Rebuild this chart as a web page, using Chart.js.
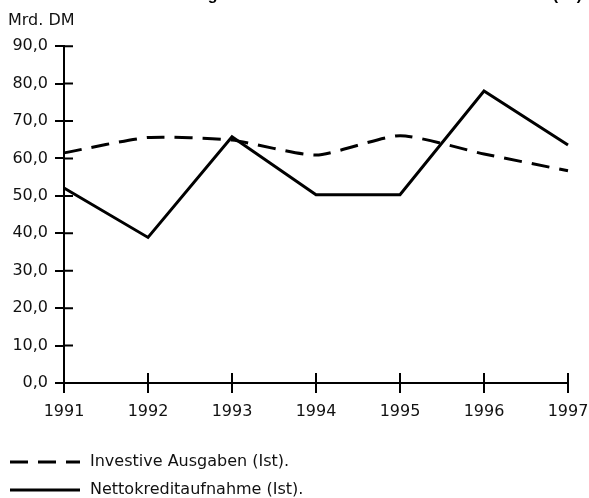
<!DOCTYPE html>
<html>
<head>
<meta charset="utf-8">
<script src="https://cdn.jsdelivr.net/npm/chart.js@4.4.1/dist/chart.umd.min.js"></script>
<style>
    html, body { margin: 0; padding: 0; background: #fff; overflow: hidden; }
    #wrap { position: relative; width: 589px; height: 498px; }
    /* titre coupé en haut de l'image, seuls les jambages dépassent */
    #titre { position: absolute; right: 7px; top: -13px; font: bold 16px/16px "Liberation Sans", Arial, sans-serif; white-space: nowrap; color: #000; }
</style>
</head>
<body>
<div id="wrap">
    <div id="titre">Investive Ausgaben und Nettokreditaufnahme des Bundes (Ist)</div>
    <canvas id="chart" width="589" height="498"></canvas>
</div>
<script>
// Données (Mrd. DM)
const annees = ['1991', '1992', '1993', '1994', '1995', '1996', '1997'];
const investiveAusgaben = [61.5, 65.6, 64.9, 60.9, 66.1, 61.2, 56.7];
const nettokreditaufnahme = [52.1, 38.9, 65.8, 50.3, 50.3, 78.0, 63.6];
const yMin = 0;
const yMax = 90;
const yPas = 10;

const police = '"DejaVu Sans", Verdana, sans-serif';

// Dessine la moitié intérieure des graduations (en croix sur les axes)
const ticksInterieurs = {
    id: 'ticksInterieurs',
    beforeDatasetsDraw(chart) {
        const { ctx, chartArea, scales: { x, y } } = chart;
        ctx.save();
        ctx.strokeStyle = '#000';
        ctx.lineWidth = 2;
        ctx.beginPath();
        y.ticks.forEach(t => {
            const py = y.getPixelForValue(t.value);
            ctx.moveTo(chartArea.left, py);
            ctx.lineTo(chartArea.left + 9, py);
        });
        x.ticks.forEach((t, i) => {
            const px = x.getPixelForTick(i);
            ctx.moveTo(px, chartArea.bottom);
            ctx.lineTo(px, chartArea.bottom - 10);
        });
        ctx.stroke();
        ctx.restore();
    }
};

// Légende sous le graphique : une entrée par ligne, trait + texte
const legendeLignes = {
    id: 'legendeLignes',
    afterDraw(chart) {
        const { ctx } = chart;
        ctx.save();
        chart.data.datasets.forEach((ds, i) => {
            const y = 462 + i * 28;
            ctx.strokeStyle = ds.borderColor;
            ctx.lineWidth = ds.borderWidth;
            ctx.setLineDash(ds.borderDash || []);
            ctx.beginPath();
            ctx.moveTo(10, y);
            ctx.lineTo(80, y);
            ctx.stroke();
            ctx.setLineDash([]);
            ctx.fillStyle = '#111';
            ctx.font = '16px ' + police;
            ctx.textBaseline = 'middle';
            ctx.fillText(ds.label, 90, y);
        });
        ctx.restore();
    }
};

const canvas = document.getElementById('chart');
new Chart(canvas, {
    type: 'line',
    data: {
        labels: annees,
        datasets: [
            {
                label: 'Investive Ausgaben (Ist).',
                data: investiveAusgaben,
                borderColor: '#000',
                backgroundColor: '#000',
                borderWidth: 3,
                borderDash: [18, 10],
                tension: 0.2,
                pointRadius: 0,
                fill: false,
            },
            {
                label: 'Nettokreditaufnahme (Ist).',
                data: nettokreditaufnahme,
                borderColor: '#000',
                backgroundColor: '#000',
                borderWidth: 3,
                tension: 0,
                pointRadius: 0,
                fill: false,
            },
        ],
    },
    options: {
        responsive: false,
        animation: false,
        layout: { padding: { left: 8, right: 21, top: 0, bottom: 58 } },
        scales: {
            x: {
                type: 'category',
                offset: false,
                grid: { drawOnChartArea: false, drawTicks: true, tickLength: 10, color: '#000', lineWidth: 2 },
                border: { display: true, color: '#000', width: 2 },
                ticks: { color: '#111', font: { family: police, size: 16 }, padding: 9, maxRotation: 0, autoSkip: false },
                afterFit: (scale) => {
                    scale.height = 57;
                    // pas de marge automatique pour le dernier libellé
                    scale.paddingRight = 0;
                    scale.paddingLeft = 0;
                },
            },
            y: {
                min: yMin,
                max: yMax,
                grid: { drawOnChartArea: false, drawTicks: true, tickLength: 9, color: '#000', lineWidth: 2 },
                border: { display: true, color: '#000', width: 2 },
                ticks: {
                    stepSize: yPas,
                    color: '#111',
                    font: { family: police, size: 16 },
                    padding: 7,
                    callback: (v) => v.toFixed(1).replace('.', ','),
                },
                afterFit: (scale) => { scale.width = 56; },
            },
        },
        plugins: {
            title: {
                display: true,
                text: 'Mrd. DM',
                align: 'start',
                color: '#111',
                font: { family: police, size: 16, weight: 'normal' },
                padding: { top: 11, bottom: 16 },
            },
            legend: { display: false },
            tooltip: { enabled: false },
        },
    },
    plugins: [ticksInterieurs, legendeLignes],
});
</script>
</body>
</html>
